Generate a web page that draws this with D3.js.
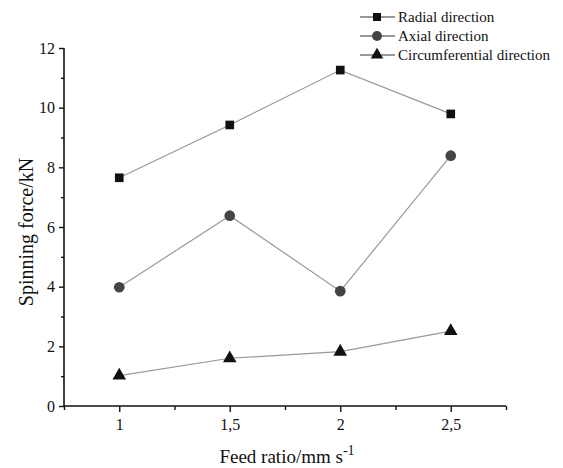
<!DOCTYPE html>
<html>
<head>
<meta charset="utf-8">
<script src="https://cdn.jsdelivr.net/npm/d3@7"></script>
<style>
	body { margin: 0; background: #fff; }
	text { font-family: "Liberation Serif", "DejaVu Serif", serif; fill: #111; }
</style>
</head>
<body>
<div id="chart"></div>
<script>
// feed ratio values (x) and the three force series
let feed = [1, 1.5, 2, 2.5]
let radial = [7.65, 9.42, 11.26, 9.79]
let axial = [3.98, 6.38, 3.85, 8.39]
let circumferential = [1.02, 1.6, 1.82, 2.51]
let seriesNames = ["Radial direction", "Axial direction", "Circumferential direction"]
let xTickLabels = ["1", "1,5", "2", "2,5"]
let yTicks = [0, 2, 4, 6, 8, 10, 12]

let width = 563
let height = 468

let svg = d3.select("#chart").append("svg")
	.attr("width", width)
	.attr("height", height);

let xScale = d3.scaleLinear()
	.domain([0.75, 2.75])
	.range([64, 506]);
let yScale = d3.scaleLinear()
	.domain([0, 12])
	.range([406, 48]);

// minor ticks first, so the major ones sit on top
svg.append("g")
	.attr("transform", "translate(0,406)")
	.call(d3.axisBottom(xScale).tickValues([0.75, 1.25, 1.75, 2.25, 2.75]).tickSize(4).tickFormat(""))
	.call(g => g.select(".domain").remove());
svg.append("g")
	.attr("transform", "translate(64,0)")
	.call(d3.axisLeft(yScale).tickValues([1, 3, 5, 7, 9, 11]).tickSize(3).tickFormat(""))
	.call(g => g.select(".domain").remove());

let xAxis = svg.append("g")
	.attr("transform", "translate(0,406)")
	.call(d3.axisBottom(xScale)
		.tickValues(feed)
		.tickSize(6)
		.tickSizeOuter(0)
		.tickPadding(7)
		.tickFormat((d, i) => xTickLabels[i]));
let yAxis = svg.append("g")
	.attr("transform", "translate(64,0)")
	.call(d3.axisLeft(yScale)
		.tickValues(yTicks)
		.tickSize(5)
		.tickSizeOuter(0)
		.tickPadding(4));

svg.selectAll(".domain").attr("stroke", "#111").attr("stroke-width", 1.6);
svg.selectAll(".tick line").attr("stroke", "#111").attr("stroke-width", 1.4);
svg.selectAll(".tick text")
	.attr("font-family", "Liberation Serif")
	.attr("font-size", 16)
	.attr("fill", "#111");

// the x domain should end at 2.75 (last minor tick)
xAxis.select(".domain").attr("d", "M" + xScale(0.75) + ",0H" + xScale(2.75));
yAxis.select(".domain").attr("d", "M0," + yScale(0) + "V" + yScale(12));

// axis titles
svg.append("text")
	.attr("transform", "translate(33,232) rotate(-90)")
	.attr("text-anchor", "middle")
	.attr("font-size", 20)
	.text("Spinning force/kN");

let xTitle = svg.append("text")
	.attr("x", 287)
	.attr("y", 463)
	.attr("text-anchor", "middle")
	.attr("font-size", 19);
xTitle.append("tspan").text("Feed ratio/mm s");
xTitle.append("tspan").attr("dy", -8).attr("font-size", 14).text("-1");

let series = [radial, axial, circumferential]
let symbols = [d3.symbolSquare, d3.symbolCircle, d3.symbolTriangle]
let symbolSizes = [75, 90, 80]
let symbolColors = ["#111", "#444", "#111"]

let line = d3.line()
	.x((d, i) => xScale(feed[i]))
	.y(d => yScale(d));

series.forEach((values, k) => {
	svg.append("path")
		.datum(values)
		.attr("d", line)
		.attr("fill", "none")
		.attr("stroke", "#999")
		.attr("stroke-width", 1.2);

	svg.append("g").selectAll("path")
		.data(values)
		.join("path")
		.attr("transform", (d, i) => `translate(${xScale(feed[i])},${yScale(d)})`)
		.attr("d", d3.symbol().type(symbols[k]).size(symbolSizes[k]))
		.attr("fill", symbolColors[k]);
});

// legend
let legend = svg.append("g");
seriesNames.forEach((name, k) => {
	let ly = 17 + k * 19;
	legend.append("line")
		.attr("x1", 360).attr("x2", 395)
		.attr("y1", ly).attr("y2", ly)
		.attr("stroke", "#333")
		.attr("stroke-width", 1.2);
	legend.append("path")
		.attr("transform", `translate(377,${ly})`)
		.attr("d", d3.symbol().type(symbols[k]).size(symbolSizes[k] * 0.85))
		.attr("fill", symbolColors[k]);
	legend.append("text")
		.attr("x", 398)
		.attr("y", ly)
		.attr("dy", "0.35em")
		.attr("font-size", 15)
		.text(name);
});
</script>
</body>
</html>
